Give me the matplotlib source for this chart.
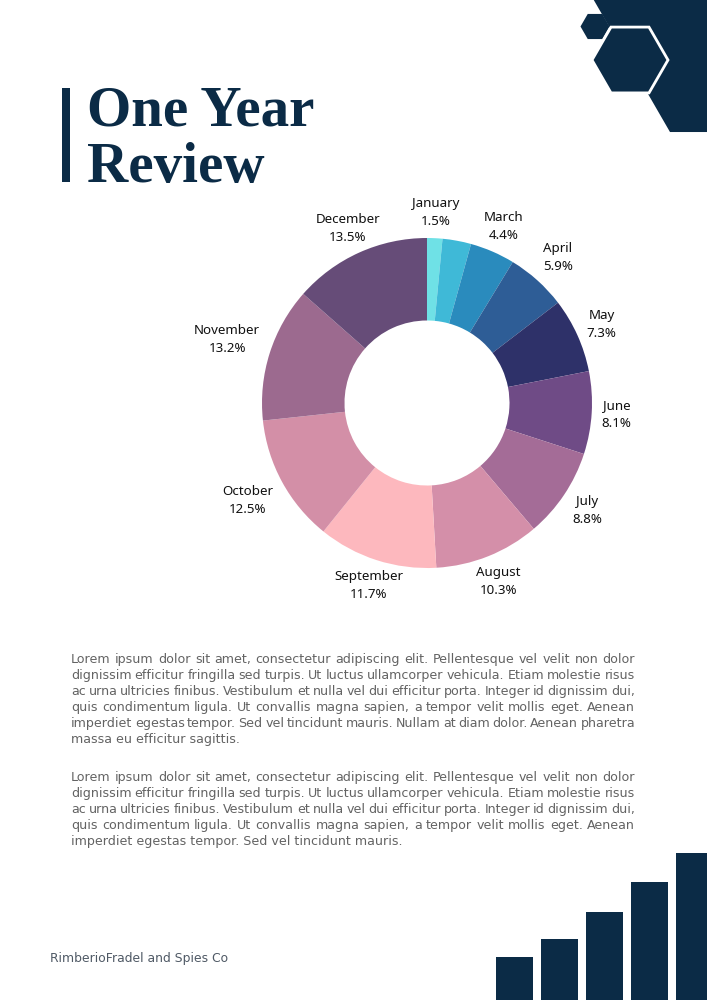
import numpy as np
import matplotlib.pyplot as plt
from matplotlib.patches import Polygon, Rectangle

months = ["January", "February", "March", "April", "May", "June", "July",
          "August", "September", "October", "November", "December"]
shares = [1.5, 2.8, 4.4, 5.9, 7.3, 8.1, 8.8, 10.3, 11.7, 12.5, 13.2, 13.5]
show_label = [True, False, True, True, True, True, True, True, True, True, True, True]
colors = ["#6fe1e6", "#3fb9d7", "#2a8bbd", "#2e5d96", "#2e3169", "#6f4b86",
          "#a46c97", "#d48fa9", "#fdb8be", "#d38fa7", "#9c6a8f", "#664c78"]

bar_heights = [43, 61, 88, 118, 147]

para1 = [
    "Lorem ipsum dolor sit amet, consectetur adipiscing elit. Pellentesque vel velit non dolor",
    "dignissim efficitur fringilla sed turpis. Ut luctus ullamcorper vehicula. Etiam molestie risus",
    "ac urna ultricies finibus. Vestibulum et nulla vel dui efficitur porta. Integer id dignissim dui,",
    "quis condimentum ligula. Ut convallis magna sapien, a tempor velit mollis eget. Aenean",
    "imperdiet egestas tempor. Sed vel tincidunt mauris. Nullam at diam dolor. Aenean pharetra",
    "massa eu efficitur sagittis.",
]
para2 = para1[:4] + ["imperdiet egestas tempor. Sed vel tincidunt mauris."]

navy = "#0b2b46"
W, H = 707, 1000

fig = plt.figure(figsize=(W / 100, H / 100), dpi=100)
bg = fig.add_axes([0, 0, 1, 1])
bg.set_xlim(0, W)
bg.set_ylim(H, 0)
bg.axis("off")
renderer = fig.canvas.get_renderer()


def hexagon(cx, cy, s):
    ang = np.radians(np.arange(0, 360, 60))
    return np.column_stack([cx + s * np.cos(ang), cy + s * np.sin(ang)])


# top-right hexagons
bg.add_patch(Polygon(hexagon(595, 26.5, 14.5), closed=True, fc=navy, ec="none"))
bg.add_patch(Polygon(hexagon(752, -10, 164), closed=True, fc=navy, ec="none"))
bg.add_patch(Polygon(hexagon(630, 60, 38), closed=True, fc=navy, ec="white", lw=2))

# title
bg.add_patch(Rectangle((62, 88), 8, 94, fc=navy, ec="none"))
bg.text(87, 125, "One Year", fontsize=41, fontweight="bold", family="Liberation Serif",
        color=navy, va="baseline")
bg.text(87, 182, "Review", fontsize=41, fontweight="bold", family="Liberation Serif",
        color=navy, va="baseline")

# donut
cx, cy, R = 427, 403, 165
ax = fig.add_axes([(cx - R) / W, 1 - (cy + R) / H, 2 * R / W, 2 * R / H])
wedges, _ = ax.pie(shares, colors=colors, startangle=90, counterclock=False,
                   wedgeprops=dict(width=0.5, linewidth=0))
ax.set_xlim(-1, 1)
ax.set_ylim(-1, 1)
ax.set_aspect("equal")
ax.axis("off")

# labels: put the label box a fixed gap outside the ring
gap = 10
total = sum(shares)
cum = 0
for m, v, show in zip(months, shares, show_label):
    mid = np.radians(90 - (cum + v / 2) / total * 360)
    cum += v
    if not show:
        continue
    t = ax.text(0, 0, f"{m}\n{v:.1f}%", ha="center", va="center", fontsize=9.6,
                family="Noto Sans", color="#111111", linespacing=1.5)
    bb = t.get_window_extent(renderer)
    c, s = np.cos(mid), np.sin(mid)
    half = min(bb.width / 2 / max(abs(c), 1e-6), bb.height / 2 / max(abs(s), 1e-6))
    r = (R + gap + half) / R
    t.set_position((r * c, r * s))

# justified paragraphs
body_kw = dict(fontsize=9.1, family="DejaVu Sans", color="#636363", va="baseline")


def word_width(w):
    t = bg.text(0, 0, w, **body_kw)
    bb = t.get_window_extent(renderer)
    t.remove()
    return bb.width


def justify(lines, x0, x1, y0, dy):
    for i, line in enumerate(lines):
        y = y0 + i * dy
        if i == len(lines) - 1:
            bg.text(x0, y, line, **body_kw)
            continue
        words = line.split()
        widths = [word_width(w) for w in words]
        sp = (x1 - x0 - sum(widths)) / (len(words) - 1)
        x = x0
        for w, wd in zip(words, widths):
            bg.text(x, y, w, **body_kw)
            x += wd + sp


justify(para1, 71, 635, 663, 16)
justify(para2, 71, 635, 781, 16)

# footer
bg.text(50, 962, "RimberioFradel and Spies Co", fontsize=8.9, family="DejaVu Sans",
        color="#4f5965", va="baseline")

# bottom bars
bx = [496 + 45 * i for i in range(len(bar_heights))]
bg.bar(bx, bar_heights, width=37, bottom=[H - h for h in bar_heights],
       align="edge", color=navy)
bg.set_xlim(0, W)
bg.set_ylim(H, 0)

fig.savefig("out.png", dpi=100)
